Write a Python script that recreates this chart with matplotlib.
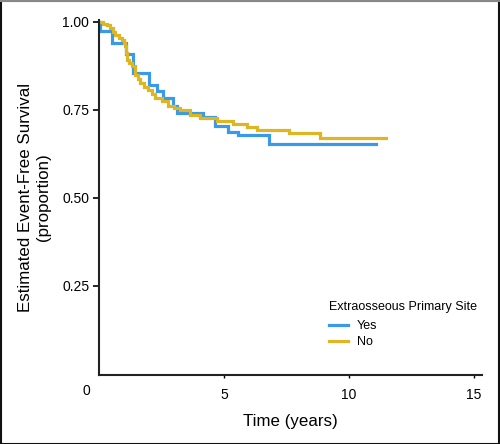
import matplotlib
matplotlib.use("Agg")
import matplotlib.pyplot as plt
from matplotlib.patches import Rectangle
import matplotlib.transforms as mtransforms

# Data (Kaplan-Meier step curves)
yes_time = [0, 0.04, 0.51, 1.08, 1.37, 2.01, 2.31, 2.55, 2.95, 3.10, 4.16, 4.64, 5.16, 5.56, 6.80, 11.08]
yes_surv = [1.0, 0.973, 0.94, 0.908, 0.854, 0.821, 0.802, 0.783, 0.760, 0.741, 0.730, 0.703, 0.688, 0.679, 0.653, 0.653]

no_time = [0, 0.15, 0.30, 0.44, 0.55, 0.64, 0.78, 0.91, 1.00, 1.04, 1.08, 1.12, 1.20, 1.30, 1.44, 1.55,
           1.64, 1.80, 1.97, 2.10, 2.24, 2.50, 2.77, 3.00, 3.24, 3.64, 4.04, 4.70, 5.36, 5.90, 6.30,
           7.60, 8.84, 11.50]
no_surv = [1.0, 0.995, 0.990, 0.982, 0.972, 0.963, 0.955, 0.949, 0.940, 0.930, 0.910, 0.892, 0.882,
           0.873, 0.850, 0.838, 0.826, 0.815, 0.807, 0.795, 0.783, 0.774, 0.760, 0.755, 0.750, 0.736,
           0.726, 0.717, 0.710, 0.702, 0.694, 0.684, 0.671, 0.671]

x_ticks = [5, 10, 15]
y_ticks = [0.25, 0.50, 0.75, 1.00]
y_tick_labels = ["0.25", "0.50", "0.75", "1.00"]
series_names = ["Yes", "No"]
legend_title = "Extraosseous Primary Site"

blue = "#3A99E8"
gold = "#DDB622"

plt.rcParams["font.family"] = ["Liberation Sans", "DejaVu Sans"]

W, H = 500, 444
fig = plt.figure(figsize=(W / 100, H / 100), dpi=100)
ax = fig.add_axes([99 / W, 1 - 375 / H, (482 - 99) / W, (375 - 20) / H])

ax.step(yes_time, yes_surv, where="post", color=blue, lw=2.3, label=series_names[0], solid_joinstyle="miter")
ax.step(no_time, no_surv, where="post", color=gold, lw=2.3, label=series_names[1], solid_joinstyle="miter")

ax.set_xlim(0, 15.32)
ax.set_ylim(-0.003, 1.005)
ax.set_xticks(x_ticks)
ax.set_xticklabels([str(v) for v in x_ticks])
ax.set_yticks(y_ticks)
ax.set_yticklabels(y_tick_labels)
ax.tick_params(axis="y", length=4, width=1.2, pad=3, labelsize=10)
ax.tick_params(axis="x", length=2, width=1.0, pad=7, labelsize=10)
ax.text(0, 0, "0", fontsize=10, ha="center", va="top",
        transform=ax.get_xaxis_transform() + mtransforms.ScaledTranslation(-13 / 100, -9 / 100, fig.dpi_scale_trans))

for s in ["top", "right"]:
    ax.spines[s].set_visible(False)
for s in ["left", "bottom"]:
    ax.spines[s].set_linewidth(1.5)
    ax.spines[s].set_color("#222222")

ax.set_xlabel("Time (years)", fontsize=12.2, labelpad=9)
ax.set_ylabel("Estimated Event-Free Survival\n(proportion)", fontsize=12.2,
              linespacing=1.25, labelpad=8)

leg = ax.legend(title=legend_title, loc="upper left", bbox_to_anchor=(0.588, 0.222),
                frameon=False, fontsize=9, title_fontsize=9, handlelength=1.5,
                handletextpad=0.7, labelspacing=0.3, alignment="left", borderaxespad=0)
leg._legend_box.sep = 5

# figure border
fig.patches.append(Rectangle((0.001, 0.001), 0.996, 0.997, transform=fig.transFigure,
                             fill=False, edgecolor="#111111", lw=1.5))
fig.patches.append(Rectangle((0, 0.996), 1, 0.004, transform=fig.transFigure,
                             facecolor="#888888", edgecolor="none"))

fig.savefig("out.png", dpi=100)
